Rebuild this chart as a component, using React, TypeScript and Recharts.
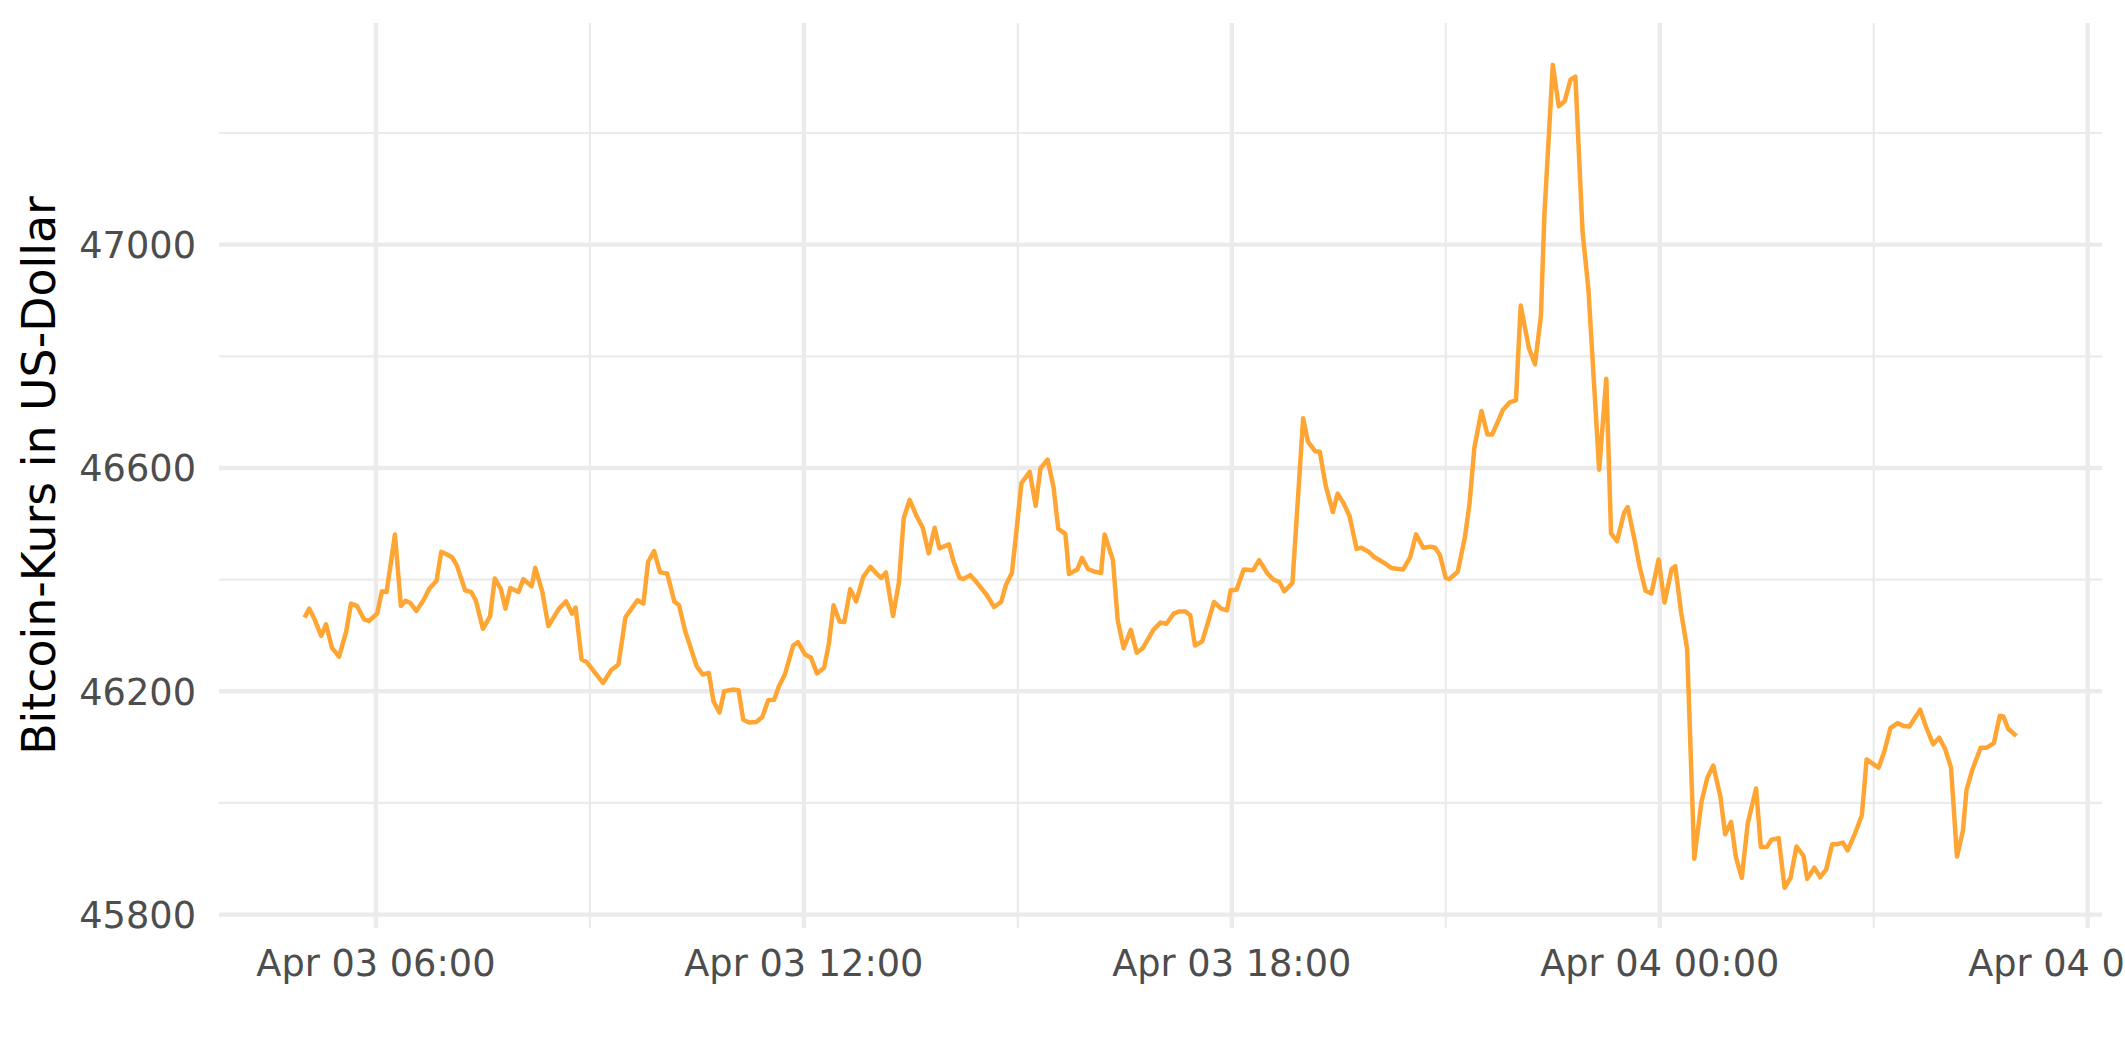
import { LineChart, Line, XAxis, YAxis, CartesianGrid } from "recharts"

// 5-minute Bitcoin price readings, Apr 03 05:00 to Apr 04 05:00 ("day hh:mm")
const stamps = [
  "03 05:00", "03 05:04", "03 05:08", "03 05:14", "03 05:18", "03 05:23", "03 05:29", "03 05:35",
  "03 05:39", "03 05:44", "03 05:50", "03 05:54", "03 06:01", "03 06:05", "03 06:09", "03 06:16",
  "03 06:21", "03 06:25", "03 06:29", "03 06:34", "03 06:40", "03 06:45", "03 06:51", "03 06:55",
  "03 06:59", "03 07:04", "03 07:08", "03 07:15", "03 07:20", "03 07:24", "03 07:30", "03 07:36",
  "03 07:40", "03 07:45", "03 07:49", "03 07:53", "03 08:00", "03 08:04", "03 08:11", "03 08:14",
  "03 08:20", "03 08:25", "03 08:30", "03 08:34", "03 08:40", "03 08:45", "03 08:48", "03 08:53",
  "03 08:57", "03 09:11", "03 09:18", "03 09:24", "03 09:30", "03 09:34", "03 09:40", "03 09:45",
  "03 09:49", "03 09:54", "03 09:59", "03 10:05", "03 10:11", "03 10:15", "03 10:20", "03 10:30",
  "03 10:35", "03 10:40", "03 10:44", "03 10:49", "03 10:53", "03 11:00", "03 11:05", "03 11:09",
  "03 11:14", "03 11:20", "03 11:25", "03 11:30", "03 11:35", "03 11:39", "03 11:44", "03 11:51",
  "03 11:55", "03 12:01", "03 12:06", "03 12:11", "03 12:17", "03 12:21", "03 12:25", "03 12:30",
  "03 12:34", "03 12:39", "03 12:44", "03 12:50", "03 12:56", "03 13:01", "03 13:05", "03 13:09",
  "03 13:15", "03 13:20", "03 13:24", "03 13:29", "03 13:35", "03 13:40", "03 13:45", "03 13:50",
  "03 13:54", "03 14:02", "03 14:06", "03 14:11", "03 14:14", "03 14:20", "03 14:25", "03 14:34",
  "03 14:40", "03 14:46", "03 14:50", "03 14:55", "03 14:59", "03 15:03", "03 15:10", "03 15:15",
  "03 15:19", "03 15:25", "03 15:30", "03 15:34", "03 15:40", "03 15:43", "03 15:50", "03 15:54",
  "03 15:59", "03 16:05", "03 16:10", "03 16:13", "03 16:20", "03 16:24", "03 16:29", "03 16:35",
  "03 16:40", "03 16:45", "03 16:54", "03 17:00", "03 17:05", "03 17:11", "03 17:16", "03 17:21",
  "03 17:25", "03 17:29", "03 17:35", "03 17:40", "03 17:45", "03 17:51", "03 17:56", "03 17:59",
  "03 18:04", "03 18:10", "03 18:18", "03 18:23", "03 18:30", "03 18:35", "03 18:40", "03 18:44",
  "03 18:51", "03 19:00", "03 19:04", "03 19:10", "03 19:14", "03 19:19", "03 19:25", "03 19:29",
  "03 19:34", "03 19:39", "03 19:45", "03 19:49", "03 19:55", "03 20:00", "03 20:09", "03 20:14",
  "03 20:24", "03 20:30", "03 20:35", "03 20:41", "03 20:47", "03 20:51", "03 20:55", "03 21:00",
  "03 21:03", "03 21:10", "03 21:16", "03 21:20", "03 21:24", "03 21:30", "03 21:35", "03 21:39",
  "03 21:44", "03 21:48", "03 21:54", "03 21:59", "03 22:03", "03 22:10", "03 22:15", "03 22:20",
  "03 22:23", "03 22:30", "03 22:35", "03 22:40", "03 22:45", "03 22:49", "03 22:55", "03 23:00",
  "03 23:09", "03 23:15", "03 23:19", "03 23:24", "03 23:30", "03 23:33", "03 23:39", "03 23:43",
  "03 23:48", "03 23:53", "03 23:59", "04 00:04", "04 00:10", "04 00:13", "04 00:18", "04 00:23",
  "04 00:29", "04 00:35", "04 00:40", "04 00:45", "04 00:51", "04 00:55", "04 01:00", "04 01:04",
  "04 01:09", "04 01:14", "04 01:21", "04 01:25", "04 01:30", "04 01:34", "04 01:40", "04 01:45",
  "04 01:50", "04 01:55", "04 02:01", "04 02:04", "04 02:10", "04 02:15", "04 02:20", "04 02:25",
  "04 02:29", "04 02:34", "04 02:38", "04 02:44", "04 02:50", "04 02:54", "04 03:00", "04 03:04",
  "04 03:09", "04 03:14", "04 03:20", "04 03:25", "04 03:30", "04 03:39", "04 03:44", "04 03:50",
  "04 03:55", "04 04:00", "04 04:05", "04 04:10", "04 04:15", "04 04:18", "04 04:23", "04 04:30",
  "04 04:35", "04 04:41", "04 04:46", "04 04:49", "04 04:53", "04 05:00",
]

const prices = [
  46332, 46348, 46331, 46299, 46320, 46278, 46262, 46307,
  46357, 46353, 46329, 46326, 46339, 46379, 46378, 46481,
  46353, 46362, 46358, 46344, 46363, 46384, 46398, 46450,
  46446, 46440, 46426, 46381, 46378, 46363, 46312, 46334,
  46402, 46384, 46348, 46385, 46378, 46401, 46388, 46421,
  46378, 46317, 46334, 46348, 46361, 46339, 46350, 46257,
  46253, 46215, 46238, 46248, 46333, 46345, 46363, 46357,
  46432, 46451, 46413, 46411, 46361, 46354, 46309, 46244,
  46230, 46233, 46182, 46162, 46200, 46203, 46202, 46149,
  46144, 46145, 46154, 46184, 46185, 46209, 46230, 46282,
  46288, 46266, 46260, 46232, 46242, 46285, 46354, 46325,
  46324, 46383, 46361, 46405, 46423, 46411, 46403, 46413,
  46335, 46396, 46510, 46543, 46513, 46493, 46447, 46493,
  46456, 46463, 46432, 46403, 46401, 46408, 46396, 46372,
  46351, 46360, 46391, 46412, 46491, 46573, 46593, 46532,
  46599, 46615, 46566, 46491, 46482, 46410, 46418, 46439,
  46419, 46414, 46412, 46481, 46435, 46327, 46277, 46310,
  46269, 46277, 46310, 46323, 46321, 46339, 46343, 46343,
  46336, 46282, 46289, 46324, 46360, 46348, 46345, 46381,
  46382, 46418, 46417, 46435, 46411, 46400, 46396, 46379,
  46394, 46689, 46647, 46630, 46629, 46568, 46521, 46554,
  46537, 46514, 46455, 46457, 46450, 46440, 46429, 46421,
  46418, 46440, 46481, 46457, 46459, 46457, 46444, 46403,
  46401, 46414, 46475, 46537, 46636, 46702, 46660, 46660,
  46684, 46704, 46718, 46721, 46891, 46814, 46786, 46872,
  47056, 47322, 47248, 47257, 47296, 47301, 47024, 46919,
  46597, 46760, 46483, 46469, 46520, 46530, 46469, 46424,
  46380, 46375, 46436, 46359, 46419, 46424, 46341, 46277,
  45900, 46001, 46045, 46067, 46011, 45944, 45966, 45903,
  45866, 45963, 46026, 45921, 45921, 45934, 45937, 45848,
  45866, 45922, 45905, 45864, 45884, 45867, 45881, 45926,
  45926, 45929, 45915, 45944, 45978, 46078, 46069, 46063,
  46093, 46134, 46143, 46138, 46137, 46167, 46136, 46105,
  46117, 46097, 46063, 45904, 45950, 46023, 46060, 46099,
  46099, 46107, 46156, 46155, 46133, 46120,
]

// hours since Apr 03 00:00
const xMajor = [6, 12, 18, 24, 30]
const xMinor = [9, 15, 21, 27]
const yMajor = [45800, 46200, 46600, 47000]
const yMinor = [46000, 46400, 46800, 47200]

const toHours = (s: string) => {
  const [d, hm] = s.split(" ")
  const [h, m] = hm.split(":")
  return (Number(d) - 3) * 24 + Number(h) + Number(m) / 60
}

const data = stamps.map((s, i) => ({ t: toHours(s), price: prices[i] }))

const fmtTime = (t: number) => {
  const day = 3 + Math.floor(t / 24)
  const hour = t % 24
  return `Apr 0${day} ${String(hour).padStart(2, "0")}:00`
}

const FONT = "DejaVu Sans"

function XTick({ x, y, payload }: any) {
  return (
    <text x={x} y={y} dy={48} textAnchor="middle" fill="#4D4D4D" fontSize={36.7} fontFamily={FONT}>
      {fmtTime(payload.value)}
    </text>
  )
}

function YTick({ x, y, payload }: any) {
  return (
    <text x={x} y={y} dx={-23} dy={13.4} textAnchor="end" fill="#4D4D4D" fontSize={36.7} fontFamily={FONT}>
      {payload.value}
    </text>
  )
}

function YTitle(props: any) {
  const vb = props.viewBox || { x: 0, y: 23, width: 219, height: 905 }
  const cx = vb.x + 55
  const cy = vb.y + vb.height / 2
  return (
    <text
      x={cx}
      y={cy}
      transform={`rotate(-90 ${cx} ${cy})`}
      textAnchor="middle"
      fill="#000000"
      fontSize={45.8}
      fontFamily={FONT}
    >
      Bitcoin-Kurs in US-Dollar
    </text>
  )
}

export default function App() {
  return (
    <div
      style={{
        position: "absolute",
        left: 0,
        top: 0,
        width: 2125,
        height: 1062,
        overflow: "hidden",
        background: "#ffffff",
      }}
    >
      <LineChart width={2125} height={1062} data={data} margin={{ top: 23, right: 23, bottom: 0, left: 0 }}>
        <CartesianGrid
          horizontalValues={yMinor}
          verticalValues={xMinor}
          stroke="#EBEBEB"
          strokeWidth={2.2}
        />
        <CartesianGrid
          horizontalValues={yMajor}
          verticalValues={xMajor}
          stroke="#EBEBEB"
          strokeWidth={4.4}
        />
        <XAxis
          dataKey="t"
          type="number"
          domain={[3.8, 30.2]}
          allowDataOverflow
          ticks={xMajor}
          interval={0}
          height={134}
          axisLine={false}
          tickLine={false}
          tickSize={0}
          tickMargin={0}
          tick={<XTick />}
        />
        <YAxis
          type="number"
          domain={[45776, 47397]}
          allowDataOverflow
          ticks={yMajor}
          interval={0}
          width={219}
          axisLine={false}
          tickLine={false}
          tickSize={0}
          tickMargin={0}
          tick={<YTick />}
          label={<YTitle />}
        />
        <Line
          type="linear"
          dataKey="price"
          stroke="#FFA534"
          strokeWidth={4.5}
          strokeLinejoin="round"
          dot={false}
          activeDot={false}
          isAnimationActive={false}
        />
      </LineChart>
    </div>
  )
}
